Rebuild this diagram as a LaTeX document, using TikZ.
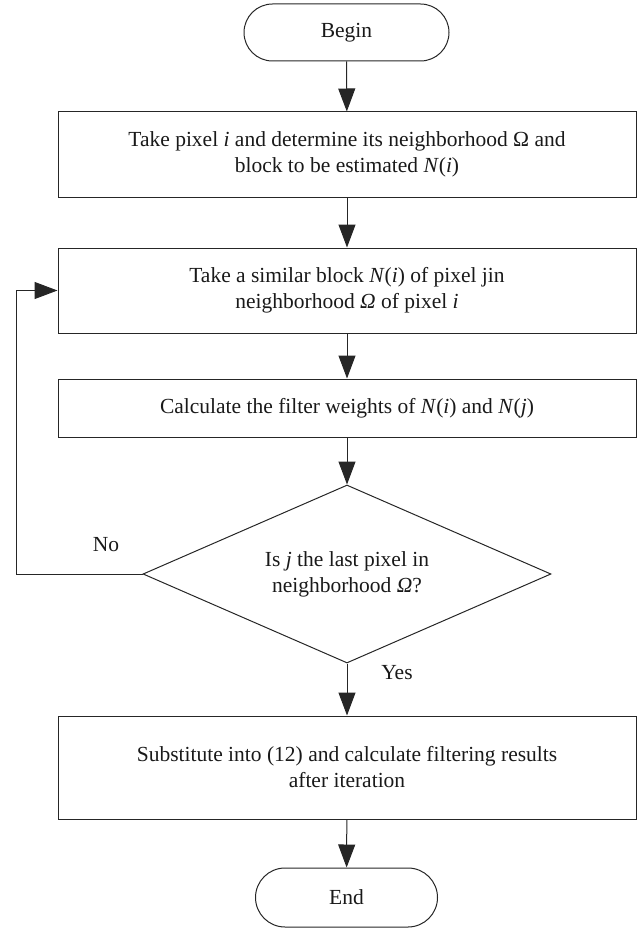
\documentclass[tikz,border=0pt]{standalone}
\usepackage{fontspec}
\setmainfont{Liberation Serif}
\usetikzlibrary{shapes.geometric,shapes.misc,arrows.meta}
\begin{document}
\begin{tikzpicture}[x=1pt,y=-1pt,
  every node/.style={font=\fontsize{21.5}{26}\selectfont, text=black!90},
  proc/.style={draw=black!85, line width=1pt, rectangle, minimum width=578pt, inner sep=0pt, align=center},
  term/.style={draw=black!85, line width=1pt, rounded rectangle, inner sep=0pt},
  decis/.style={draw=black!85, line width=1pt, diamond, shape aspect=2.29, minimum width=408pt, minimum height=178pt, inner sep=0pt, align=center},
  arr/.style={draw=black!85, line width=1pt, -{Triangle[length=23pt,width=17pt]}},
  lbl/.style={inner sep=0pt}
]
\useasboundingbox (0,0) rectangle (638,928);
\node[term, minimum width=205pt, minimum height=57pt] (begin) at (346.5,32.5) {Begin};
\node[proc, minimum height=85pt] (b1) at (347,154.5) {Take pixel \textit{i} and determine its neighborhood Ω and\\block to be estimated \textit{N}(\textit{i})};
\node[proc, minimum height=85pt] (b2) at (347,290.5) {Take a similar block \textit{N}(\textit{i}) of pixel jin\\neighborhood \textit{Ω} of pixel \textit{i}};
\node[proc, minimum height=58pt] (b3) at (347,408) {Calculate the filter weights of \textit{N}(\textit{i}) and \textit{N}(\textit{j})};
\node[decis] (dia) at (347,574) {Is \textit{j} the last pixel in\\neighborhood \textit{Ω}?};
\node[proc, minimum height=103pt] (b4) at (347,767.5) {Substitute into (12) and calculate filtering results\\after iteration};
\node[term, minimum width=182pt, minimum height=59pt] (end) at (346.5,897.5) {End};
\node[lbl] (no) at (106,545) {No};
\node[lbl] (yes) at (397,673) {Yes};
\coordinate (loopc) at (16.5,574);
\draw[arr] (begin) -- (b1);
\draw[arr] (b1) -- (b2);
\draw[arr] (b2) -- (b3);
\draw[arr] (b3) -- (dia);
\draw[arr] (dia) -- (b4);
\draw[arr] (b4) -- (end);
\draw[arr] (dia.west) -- (loopc) |- (b2.west);
\end{tikzpicture}
\end{document}
